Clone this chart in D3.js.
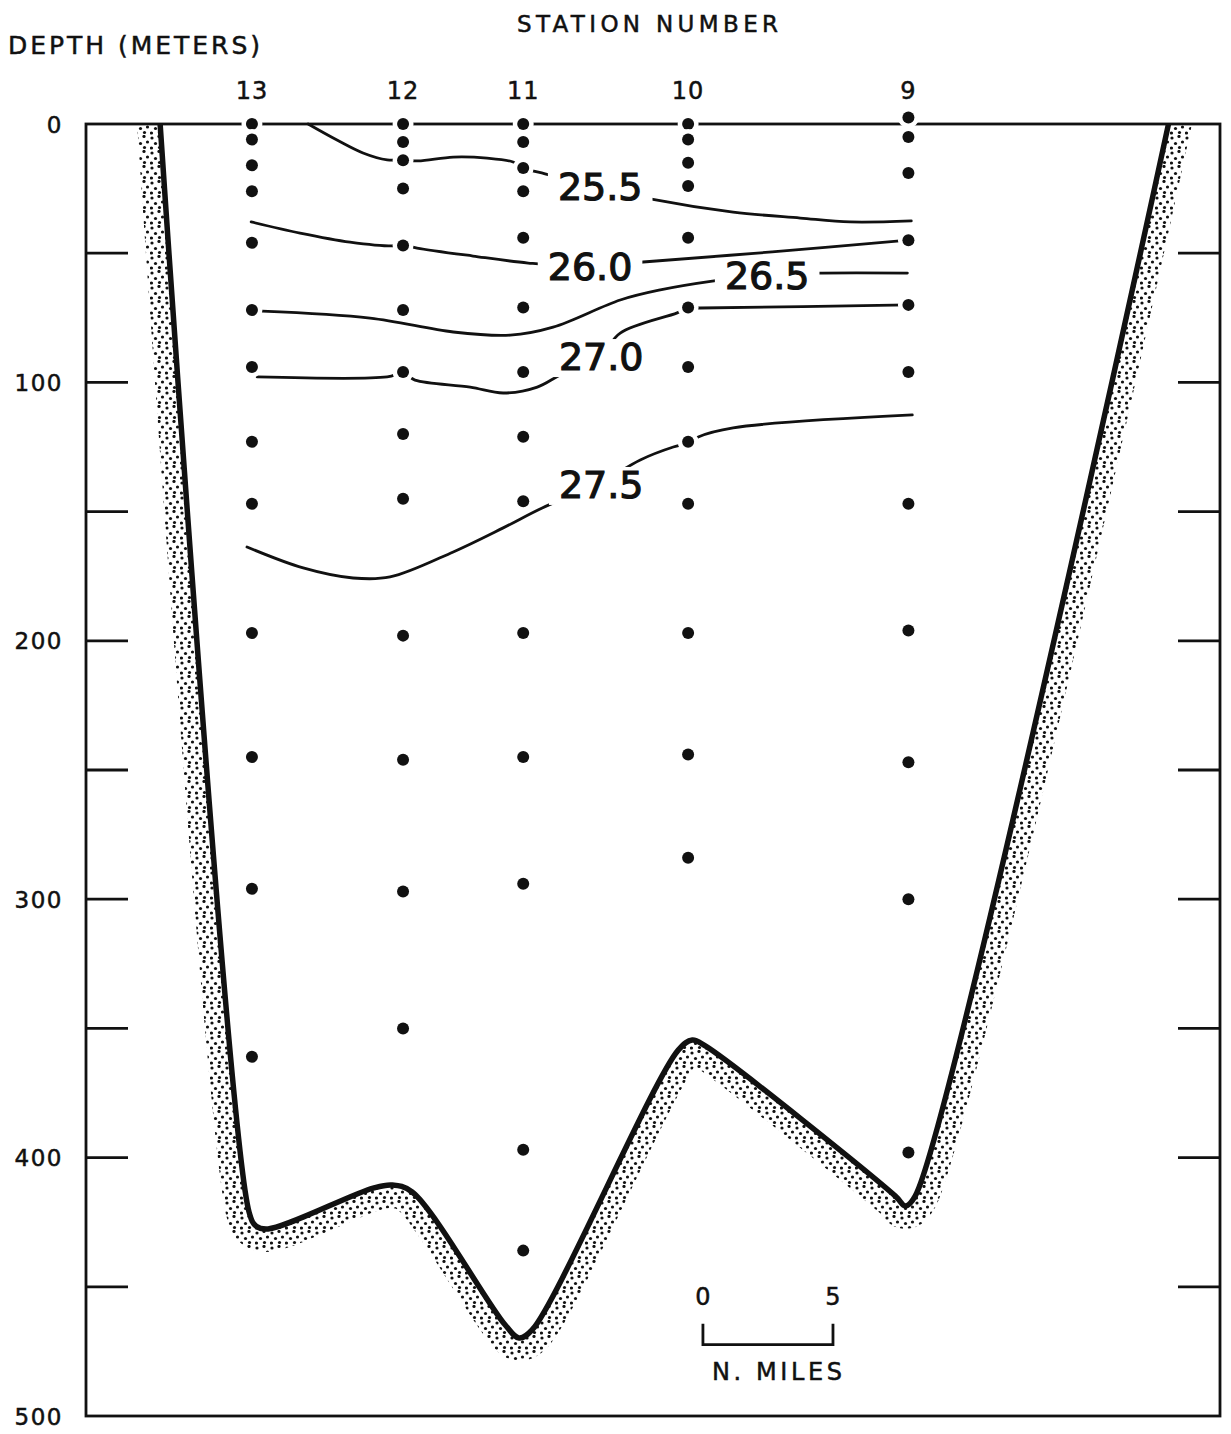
<!DOCTYPE html>
<html>
<head>
<meta charset="utf-8">
<script src="https://cdn.jsdelivr.net/npm/d3@7"></script>
<style>
  html, body { margin: 0; background: #fff; }
  svg { display: block; font-family: "DejaVu Sans", "Liberation Sans", sans-serif; }
</style>
</head>
<body>
<svg id="chart" width="1231" height="1434"></svg>
<script>
// ---- Section data: distance along section in nautical miles, depth in metres ----
const stations = ["13", "12", "11", "10", "9"];
const stationMiles = [6.38, 12.19, 16.81, 23.15, 31.62];

// Bottle (sample) depths at each station
const samples13 = [0, 6, 16, 26, 46, 72, 94, 123, 147, 197, 245, 296, 361];
const samples12 = [0, 7, 14, 25, 47, 72, 96, 120, 145, 198, 246, 297, 350];
const samples11 = [0, 7, 17, 26, 44, 71, 96, 121, 146, 197, 245, 294, 397, 436];
const samples10 = [0, 6, 15, 24, 44, 71, 94, 123, 147, 197, 244, 284];
const samples9  = [-2.5, 5, 19, 45, 70, 96, 147, 196, 247, 300, 398];

// Depth axis
const depthLabels = [0, 100, 200, 300, 400, 500];
const depthTicks = [50, 100, 150, 200, 250, 300, 350, 400, 450];

// Sea-floor profile [miles, depth]
const bottomProfile = [
  [2.85, 0], [6.27, 421.1], [6.54, 426.5], [7.0, 427.6], [11.04, 411.8],
  [11.77, 410.6], [12.54, 413.3], [16.12, 464.8], [16.65, 469.8], [17.15, 466.7],
  [22.77, 358.4], [23.31, 354.5], [23.81, 356.8], [31.12, 414.9], [31.5, 418.7],
  [31.88, 414.9], [41.62, 0]
];

// Isopycnals (sigma-t) [miles, depth]
const sigma255 = [
  [8.54, 0], [9.65, 6.2], [10.65, 11.2], [11.58, 13.9], [12.19, 13.9], [12.77, 14.3],
  [14.12, 12.8], [15.42, 13.2], [16.42, 14.7], [16.81, 17.0], [17.65, 19.3],
  [19.69, 24.4], [21.69, 29.0], [24.88, 34.1], [27.46, 36.4], [29.38, 37.9], [31.73, 37.5]
];
const sigma260 = [
  [6.35, 37.9], [8.23, 42.2], [10.15, 45.7], [11.77, 47.2], [12.19, 46.8], [12.73, 48.0],
  [14.88, 51.1], [17.0, 53.8], [19.38, 55.3], [21.42, 53.4], [26.38, 49.5], [31.62, 44.9]
];
const sigma265 = [
  [6.77, 72.4], [10.92, 75.1], [14.12, 80.5], [16.31, 81.7], [17.96, 78.6], [20.54, 68.1],
  [22.08, 64.2], [24.08, 60.8], [26.19, 58.4], [28.31, 57.7], [31.58, 57.7]
];
const sigma270 = [
  [6.58, 97.9], [11.58, 97.9], [12.19, 96.4], [12.65, 99.1], [14.77, 101.8], [16.04, 104.1],
  [17.35, 101.8], [18.23, 97.1], [19.81, 89.4], [20.54, 80.9], [22.73, 73.1], [23.15, 71.2],
  [23.62, 71.2], [31.62, 70.0]
];
const sigma275 = [
  [6.19, 163.7], [8.35, 171.8], [10.27, 175.7], [11.69, 175.3], [14.12, 165.6], [16.04, 156.3],
  [17.54, 148.6], [19.77, 138.9], [21.31, 130.0], [22.58, 125.0], [23.15, 123.5], [23.54, 121.1],
  [24.88, 117.6], [31.77, 112.6]
];
const contourValues = [25.5, 26.0, 26.5, 27.0, 27.5];
// where each isopycnal carries its value [miles, depth]
const contourLabelAt = [[19.77, 23.9], [19.38, 54.9], [26.19, 58.4], [19.81, 89.8], [19.81, 139.3]];

// Distance scale bar (nautical miles)
const scaleBarMiles = [0, 5];

// ---- Drawing ----
const svg = d3.select("#chart");
const x = d3.scaleLinear().domain([0, 43.6]).range([86, 1220]);
const y = d3.scaleLinear().domain([0, 500]).range([124, 1416]);
const ink = "#111";

const defs = svg.append("defs");
const pat = defs.append("pattern")
  .attr("id", "stipple").attr("patternUnits", "userSpaceOnUse")
  .attr("width", 15).attr("height", 15);
[[2, 3], [9, 1.5], [5.5, 8.5], [12.5, 7], [1.5, 13], [9.5, 12.5]].forEach(([cx, cy]) =>
  pat.append("circle").attr("cx", cx).attr("cy", cy).attr("r", 1.6).attr("fill", ink));
defs.append("clipPath").attr("id", "belowSurface")
  .append("rect").attr("x", x(0)).attr("y", y(0) + 1)
  .attr("width", x(43.6) - x(0)).attr("height", y(500) - y(0));

const profileLine = d3.line()
  .x(d => x(d[0])).y(d => y(d[1]))
  .curve(d3.curveCatmullRom.alpha(0.5));

// stippled sediment band along the floor, water body masks its inner half
svg.append("path")
  .attr("d", profileLine(bottomProfile))
  .attr("fill", "none").attr("stroke", "url(#stipple)")
  .attr("stroke-width", 46).attr("stroke-linecap", "square")
  .attr("clip-path", "url(#belowSurface)");
svg.append("path")
  .attr("d", profileLine(bottomProfile) + "Z")
  .attr("fill", "#fff").attr("stroke", "none");

// frame
svg.append("rect")
  .attr("x", x(0)).attr("y", y(0))
  .attr("width", x(43.6) - x(0)).attr("height", y(500) - y(0))
  .attr("fill", "none").attr("stroke", ink).attr("stroke-width", 2.8);

// depth ticks on both sides
const tickLen = 42;
svg.append("g").selectAll("line").data(depthTicks).join("line")
  .attr("x1", x(0)).attr("x2", x(0) + tickLen)
  .attr("y1", d => y(d)).attr("y2", d => y(d))
  .attr("stroke", ink).attr("stroke-width", 2.8);
svg.append("g").selectAll("line").data(depthTicks).join("line")
  .attr("x1", x(43.6) - tickLen).attr("x2", x(43.6))
  .attr("y1", d => y(d)).attr("y2", d => y(d))
  .attr("stroke", ink).attr("stroke-width", 2.8);

const textStyle = sel => sel.attr("fill", ink).attr("stroke", ink).attr("stroke-width", 0.5);

svg.append("g").selectAll("text").data(depthLabels).join("text")
  .attr("x", 63).attr("y", d => y(d) + 8.5)
  .attr("text-anchor", "end").attr("font-size", 23)
  .attr("letter-spacing", 1.5)
  .call(textStyle)
  .text(d => d);

// titles
svg.append("text").attr("x", 8).attr("y", 54)
  .attr("font-size", 25)
  .attr("textLength", 252).attr("lengthAdjust", "spacing")
  .call(textStyle)
  .text("DEPTH (METERS)");
svg.append("text").attr("x", 517).attr("y", 32)
  .attr("font-size", 23)
  .attr("textLength", 261).attr("lengthAdjust", "spacing")
  .call(textStyle)
  .text("STATION NUMBER");

// station numbers
svg.append("g").selectAll("text").data(stations).join("text")
  .attr("x", (d, i) => x(stationMiles[i]))
  .attr("y", 99)
  .attr("text-anchor", "middle").attr("font-size", 24)
  .attr("letter-spacing", 1)
  .call(textStyle)
  .text(d => d);

// isopycnals
const contourLine = d3.line()
  .x(d => x(d[0])).y(d => y(d[1]))
  .curve(d3.curveCatmullRom.alpha(0.5));
const contours = [sigma255, sigma260, sigma265, sigma270, sigma275];
svg.append("g").selectAll("path").data(contours).join("path")
  .attr("d", contourLine)
  .attr("fill", "none").attr("stroke", ink).attr("stroke-width", 2.8)
  .attr("stroke-linecap", "round");

// contour labels, each sitting in a clear gap of its line
const labelG = svg.append("g");
contourValues.forEach((v, i) => {
  const [m, dep] = contourLabelAt[i];
  const g = labelG.append("g");
  const t = g.append("text")
    .attr("x", x(m)).attr("y", y(dep) + 14)
    .attr("text-anchor", "middle").attr("font-size", 38)
    .attr("fill", ink).attr("stroke", ink).attr("stroke-width", 1.2)
    .text(v.toFixed(1));
  const bb = t.node().getBBox();
  g.insert("rect", "text")
    .attr("x", bb.x - 10).attr("y", bb.y + 4)
    .attr("width", bb.width + 20).attr("height", bb.height - 6)
    .attr("fill", "#fff");
});

// sample points
const sampleSets = [samples13, samples12, samples11, samples10, samples9];
const pts = [];
sampleSets.forEach((arr, i) => arr.forEach(dep => pts.push([stationMiles[i], dep])));
svg.append("g").selectAll("circle").data(pts).join("circle")
  .attr("cx", d => x(d[0])).attr("cy", d => y(d[1]))
  .attr("r", 6).attr("fill", ink)
  .attr("stroke", "#fff").attr("stroke-width", 9)
  .style("paint-order", "stroke");

// sea floor
svg.append("path")
  .attr("d", profileLine(bottomProfile))
  .attr("fill", "none").attr("stroke", ink)
  .attr("stroke-width", 5.5).attr("stroke-linejoin", "round");

// distance scale
const s0 = 23.72, barDepth = 472.4;
const sx0 = x(s0 + scaleBarMiles[0]), sx1 = x(s0 + scaleBarMiles[1]);
const by = y(barDepth);
svg.append("path")
  .attr("d", `M${sx0},${by - 21}V${by}H${sx1}V${by - 21}`)
  .attr("fill", "none").attr("stroke", ink).attr("stroke-width", 2.8);
svg.append("g").selectAll("text").data(scaleBarMiles).join("text")
  .attr("x", d => x(s0 + d)).attr("y", by - 40)
  .attr("text-anchor", "middle").attr("font-size", 24)
  .call(textStyle)
  .text(d => d);
svg.append("text")
  .attr("x", 712).attr("y", by + 35)
  .attr("font-size", 24)
  .attr("textLength", 130).attr("lengthAdjust", "spacing")
  .call(textStyle)
  .text("N. MILES");
</script>
</body>
</html>
